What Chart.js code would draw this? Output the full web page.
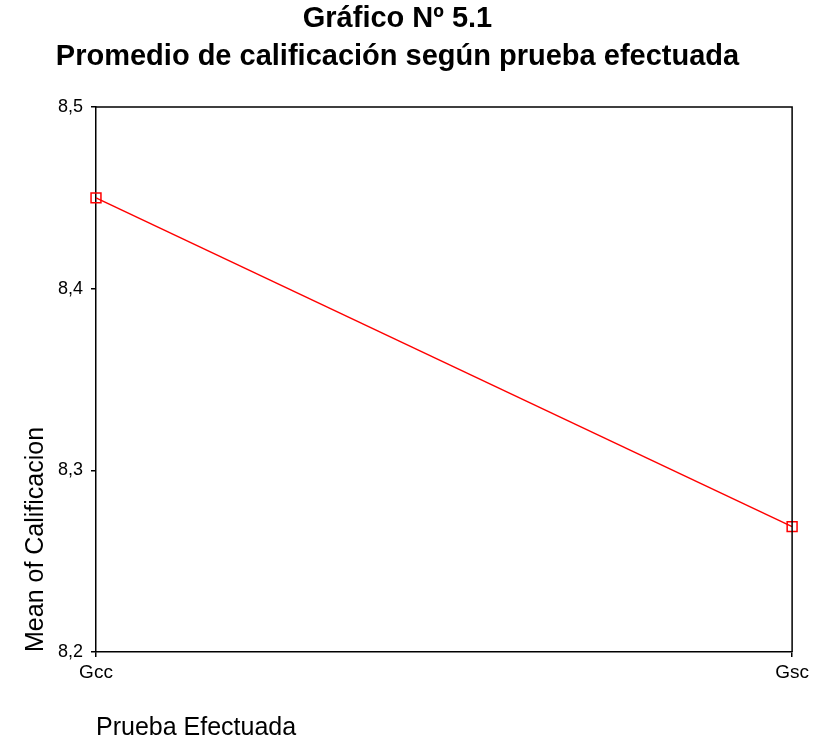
<!DOCTYPE html>
<html>
<head>
<meta charset="utf-8">
<script src="https://cdn.jsdelivr.net/npm/chart.js@4/dist/chart.umd.min.js"></script>
<style>
  body { margin: 0; background: #fff; }
  #wrap { width: 813px; height: 743px; }
</style>
</head>
<body>
<div id="wrap"><canvas id="chart" width="813" height="743"></canvas></div>
<script>
// data
var pruebas = ['Gcc', 'Gsc'];
var promedios = [8.45, 8.269];
var yTicks = [8.2, 8.3, 8.4, 8.5];

var titleLines = ['Gráfico Nº 5.1', 'Promedio de calificación según prueba efectuada'];
var fontFam = '"Liberation Sans", Arial, sans-serif';

// draws the top and right edges of the plot box
var boxPlugin = {
  id: 'box',
  afterDraw: function(chart) {
    var a = chart.chartArea;
    var ctx = chart.ctx;
    ctx.save();
    ctx.strokeStyle = '#000';
    ctx.lineWidth = 1.5;
    ctx.beginPath();
    ctx.moveTo(a.left, a.top);
    ctx.lineTo(a.right, a.top);
    ctx.lineTo(a.right, a.bottom);
    ctx.stroke();
    ctx.restore();
  }
};

var ctx = document.getElementById('chart').getContext('2d');
var chart = new Chart(ctx, {
  type: 'line',
  data: {
    labels: pruebas,
    datasets: [{
      label: 'Calificacion',
      data: promedios,
      borderColor: '#ff0000',
      borderWidth: 1.5,
      pointStyle: 'rect',
      pointRadius: 7,
      pointBorderWidth: 1.5,
      pointBorderColor: '#ff0000',
      pointBackgroundColor: 'rgba(0,0,0,0)',
      tension: 0,
      clip: false
    }]
  },
  options: {
    responsive: false,
    animation: false,
    layout: { padding: { top: 0, left: 0, right: 18, bottom: 0 } },
    plugins: {
      legend: { display: false },
      tooltip: { enabled: false },
      title: {
        display: true,
        text: titleLines,
        color: '#000',
        font: { family: fontFam, size: 29, weight: 'bold', lineHeight: 38 / 29 },
        padding: { top: 0, bottom: 31 }
      }
    },
    scales: {
      x: {
        type: 'category',
        offset: false,
        grid: { display: true, drawOnChartArea: false, drawTicks: true, tickLength: 5, color: '#000', lineWidth: 1.5 },
        border: { display: true, color: '#000', width: 1.5 },
        ticks: { color: '#000', font: { family: fontFam, size: 19 }, padding: 4, maxRotation: 0 },
        title: {
          display: true,
          text: 'Prueba Efectuada',
          align: 'start',
          color: '#000',
          font: { family: fontFam, size: 25 },
          padding: { top: 0, bottom: 0 }
        },
        afterFit: function(scale) { scale.height = 91; }
      },
      y: {
        min: yTicks[0],
        max: yTicks[yTicks.length - 1],
        afterBuildTicks: function(scale) {
          scale.ticks = yTicks.map(function(v) { return { value: v }; });
        },
        grid: { display: true, drawOnChartArea: false, drawTicks: true, tickLength: 5, color: '#000', lineWidth: 1.5 },
        border: { display: true, color: '#000', width: 1.5 },
        ticks: {
          color: '#000',
          font: { family: fontFam, size: 18 },
          padding: 8,
          callback: function(v) { return Number(v).toFixed(1).replace('.', ','); }
        },
        title: {
          display: true,
          text: 'Mean of Calificacion',
          align: 'start',
          color: '#000',
          font: { family: fontFam, size: 25 },
          padding: { top: 21, bottom: 0 }
        },
        afterFit: function(scale) { scale.width = 96; }
      }
    }
  },
  plugins: [boxPlugin]
});
</script>
</body>
</html>
